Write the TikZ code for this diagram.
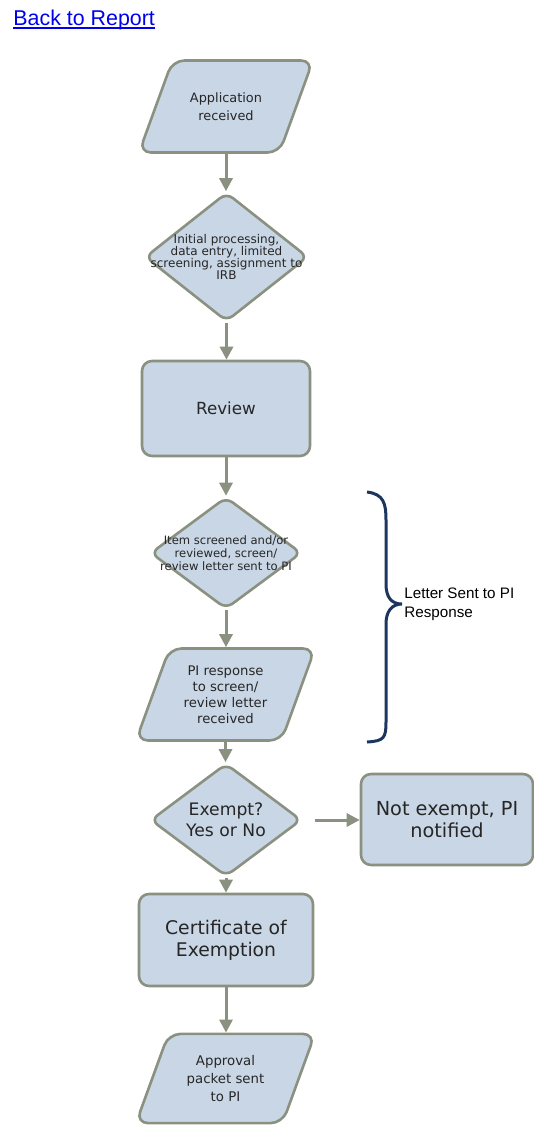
\documentclass[tikz,border=0pt]{standalone}
\usepackage{fontspec}
\setmainfont{DejaVu Sans}
\newfontfamily\arialfont{Liberation Sans}
\usepackage{xcolor}
\definecolor{bleuclair}{RGB}{201,214,229}
\definecolor{grisvert}{RGB}{138,145,128}
\definecolor{bleunuit}{RGB}{28,54,96}
\definecolor{lienbleu}{RGB}{0,0,238}
\usepackage{pgf,tikz}
\usetikzlibrary{shapes,arrows.meta,calc,positioning}

\begin{document}
\begin{tikzpicture}[x=0.5pt,y=-0.5pt,
  every node/.style={inner sep=0pt,align=center,text=black!85},
  boite/.style={rectangle,draw=grisvert,fill=bleuclair,line width=1.3pt,rounded corners=5pt},
  losange/.style={diamond,draw=grisvert,fill=bleuclair,line width=1.3pt,rounded corners=4pt},
  para/.style={trapezium,trapezium left angle=70,trapezium right angle=110,trapezium stretches body,
    inner xsep=0pt,inner ysep=23pt,draw=grisvert,fill=bleuclair,line width=1.3pt,rounded corners=6pt},
  fleche/.style={draw=grisvert,line width=1.5pt,-{Triangle[width=6.5pt,length=6.5pt]}}]
    \useasboundingbox (0,0) rectangle (534,1125);
    \node[anchor=base west,font=\arialfont\fontsize{10.7}{12}\selectfont,text=lienbleu] (retour) at (13,25) {Back to Report};
    \draw[lienbleu,line width=0.9pt] ([yshift=-1.6pt]retour.base west) -- ([yshift=-1.6pt]retour.base east);
    \node[para,minimum width=87pt,
      label={[font=\fontsize{6.45}{9.25}\selectfont]center:{Application\\received}}] (app) at (226,106.5) {};
    \node[losange,minimum width=81.5pt,minimum height=64.5pt,
      label={[font=\fontsize{6}{6}\selectfont]center:{Initial processing,\\data entry, limited\\screening, assignment to\\IRB}}] (init) at (226.5,257) {};
    \node[boite,minimum width=84pt,minimum height=47.5pt,font=\fontsize{8.35}{10}\selectfont] (rev) at (226,408.5) {Review};
    \node[losange,minimum width=75.5pt,minimum height=56pt,
      label={[font=\fontsize{5.8}{6.65}\selectfont]center:{Item screened and/or\\reviewed, screen/\\review letter sent to PI}}] (item) at (226,553) {};
    \node[para,minimum width=89.5pt,
      label={[font=\fontsize{6.6}{7.95}\selectfont]center:{PI response\\to screen/\\review letter\\received}}] (resp) at (225.5,694.5) {};
    \node[losange,minimum width=75.5pt,minimum height=56.5pt,
      label={[font=\fontsize{8.6}{10.35}\selectfont]center:{Exempt?\\Yes or No}}] (ex) at (226,820) {};
    \node[boite,minimum width=86pt,minimum height=45.5pt,font=\fontsize{9.65}{11.15}\selectfont] (notex) at (447,819.5) {Not exempt, PI\\notified};
    \node[boite,minimum width=87pt,minimum height=46pt,font=\fontsize{9.4}{11.15}\selectfont] (cert) at (226,940) {Certificate of\\Exemption};
    \node[para,minimum width=89.5pt,inner ysep=22.3pt,
      label={[font=\fontsize{6.65}{8.9}\selectfont]center:{Approval\\packet sent\\to PI}}] (appr) at (225.5,1078.5) {};
    \draw[fleche] (app.south) -- (app.south |- init.north);
    \draw[fleche] (init.south) -- (init.south |- rev.north);
    \draw[fleche] (rev.south) -- (rev.south |- item.north);
    \draw[fleche] (item.south) -- (item.south |- resp.north);
    \draw[fleche] (resp.south) -- (resp.south |- ex.north);
    \draw[fleche] (ex.south) -- (ex.south |- cert.north);
    \draw[fleche] (cert.south) -- (cert.south |- appr.north);
    \draw[fleche,shorten <=6pt] (ex.east) -- (ex.east -| notex.west);
    \draw[bleunuit,line width=1.5pt] (367,492) .. controls (384,494) and (386,504) .. (386,520) -- (386,584)
      .. controls (386,598) and (392,604) .. (402,604) .. controls (392,604) and (386,611) .. (386,624)
      -- (386,722) .. controls (386,738) and (384,741) .. (367,742);
    \coordinate (pointe) at (402,604);
    \node[right=1pt of pointe,align=left,text=black,font=\arialfont\fontsize{7.6}{9.35}\selectfont] (lettre) {Letter Sent to PI\\Response};
\end{tikzpicture}
\end{document}
